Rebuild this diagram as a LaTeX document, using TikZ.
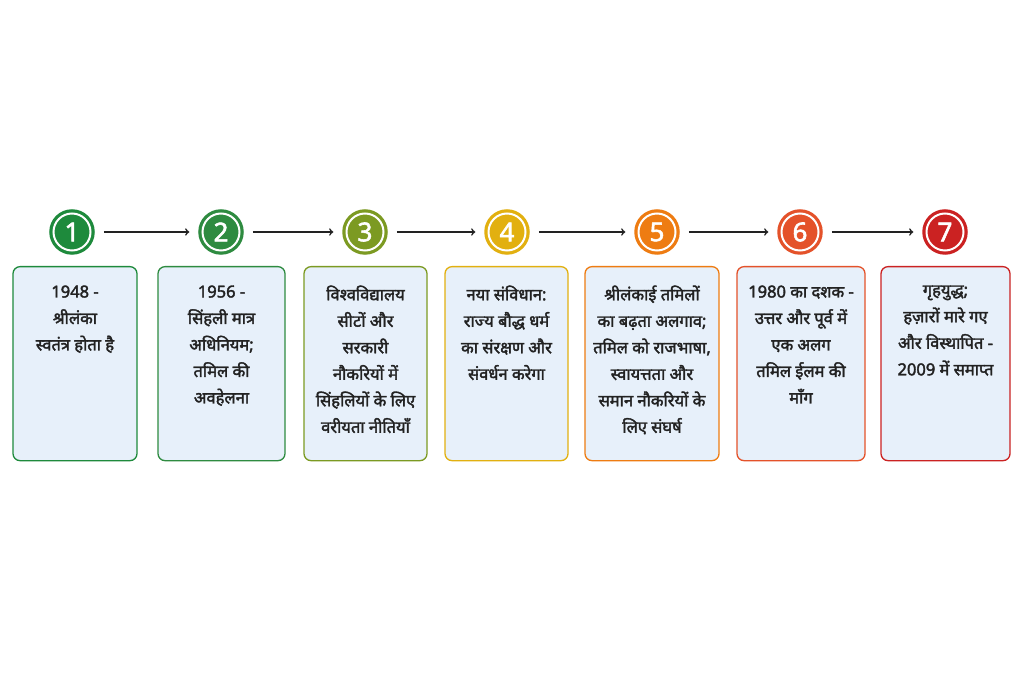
\documentclass[tikz,border=0pt]{standalone}
\usepackage{fontspec}
\setmainfont{Noto Sans}[Script=Devanagari, AutoFakeBold=2.2]
\definecolor{cone}{HTML}{1E8A3C}
\definecolor{ctwo}{HTML}{2E8B40}
\definecolor{cthree}{HTML}{7C9A22}
\definecolor{cfour}{HTML}{E2B010}
\definecolor{cfive}{HTML}{EE7C12}
\definecolor{csix}{HTML}{E4522A}
\definecolor{cseven}{HTML}{CB2222}
\definecolor{boxfill}{HTML}{E7F0FA}
\definecolor{ink}{HTML}{222222}
\tikzset{every picture/.style = {x=1pt, y=1pt}}
\tikzset{num/.style = {circle, fill=#1, draw=#1, line width=1.5pt, minimum size=44pt,
  inner sep=0, text=white, font=\bfseries\fontsize{26}{26}\selectfont}}
\tikzset{card/.style = {draw=#1, fill=boxfill, rounded corners=7pt, line width=1.3pt,
  minimum height=194pt, anchor=north}}
\tikzset{info/.style = {anchor=north, align=center, text=ink,
  font=\bfseries\fontsize{16.5}{26.5}\selectfont}}

\begin{document}
\begin{tikzpicture}
  \useasboundingbox (0, 0) rectangle (1024, 683);
  \fill[white] (0, 0) rectangle (1024, 683);
  % steps
  \node[num=cone]   (c1) at (72, 451) {1};
  \node[num=ctwo]   (c2) at (221, 451) {2};
  \node[num=cthree] (c3) at (365, 451) {3};
  \node[num=cfour]  (c4) at (507, 451) {4};
  \node[num=cfive]  (c5) at (657, 451) {5};
  \node[num=csix]   (c6) at (800, 451) {6};
  \node[num=cseven] (c7) at (945, 451) {7};
  \foreach \i in {1,...,7}
    \draw[white, line width=2pt] (c\i) circle (18.5);
  \foreach \i/\j in {1/2, 2/3, 3/4, 4/5, 5/6, 6/7}
    \draw[->, ink, line width=1.6pt, shorten <=9pt, shorten >=9pt] (c\i) -- (c\j);
  % cards
  \node[card=cone,   minimum width=124pt] (b1) at (75, 417) {};
  \node[card=ctwo,   minimum width=127pt] (b2) at (221.5, 417) {};
  \node[card=cthree, minimum width=123pt] (b3) at (365.5, 417) {};
  \node[card=cfour,  minimum width=123pt] (b4) at (506.5, 417) {};
  \node[card=cfive,  minimum width=134pt] (b5) at (652, 417) {};
  \node[card=csix,   minimum width=128pt] (b6) at (801, 417) {};
  \node[card=cseven, minimum width=129pt] (b7) at (945.5, 417) {};
  \node[info] (t1) at ([yshift=-16]b1.north) {1948 -\\श्रीलंका\\स्वतंत्र होता है};
  \node[info] (t2) at ([yshift=-16]b2.north) {1956 -\\सिंहली मात्र\\अधिनियम;\\तमिल की\\अवहेलना};
  \node[info] (t3) at ([yshift=-16]b3.north) {विश्वविद्यालय\\सीटों और\\सरकारी\\नौकरियों में\\सिंहलियों के लिए\\वरीयता नीतियाँ};
  \node[info] (t4) at ([yshift=-16]b4.north) {नया संविधान:\\राज्य बौद्ध धर्म\\का संरक्षण और\\संवर्धन करेगा};
  \node[info] (t5) at ([yshift=-16]b5.north) {श्रीलंकाई तमिलों\\का बढ़ता अलगाव;\\तमिल को राजभाषा,\\स्वायत्तता और\\समान नौकरियों के\\लिए संघर्ष};
  \node[info] (t6) at ([yshift=-16]b6.north) {1980 का दशक -\\उत्तर और पूर्व में\\एक अलग\\तमिल ईलम की\\माँग};
  \node[info] (t7) at ([yshift=-16]b7.north) {गृहयुद्ध;\\हज़ारों मारे गए\\और विस्थापित -\\2009 में समाप्त};
\end{tikzpicture}
\end{document}
